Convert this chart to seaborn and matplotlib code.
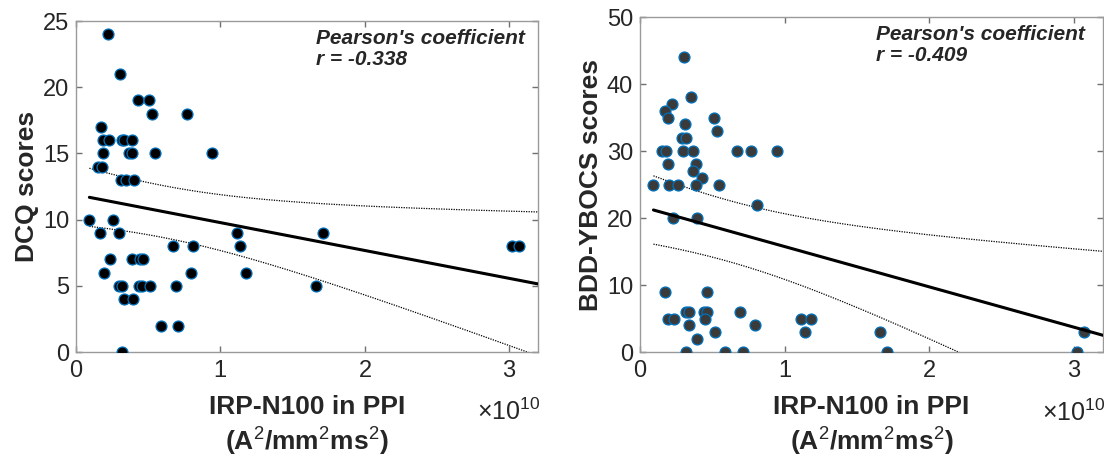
import matplotlib
matplotlib.use("Agg")
import matplotlib.pyplot as plt
import matplotlib.ticker as mticker
import numpy as np
import seaborn as sns

# IRP-N100 in PPI (units of 1e10 A^2/mm^2ms^2) and DCQ scores
dcq_x = [0.224, 0.305, 0.43, 0.507, 0.53, 0.766, 0.174, 0.19, 0.227, 0.32, 0.335, 0.39,
         0.19, 0.368, 0.39, 0.55, 0.944, 0.153, 0.178, 0.31, 0.35, 0.40,
         0.093, 0.26, 0.167, 0.296, 1.116, 1.71, 0.674, 0.81, 1.139, 3.02, 3.07,
         0.234, 0.39, 0.447, 0.463, 0.197, 0.796, 1.18,
         0.296, 0.317, 0.4375, 0.458, 0.514, 0.69, 1.66, 0.333, 0.396, 0.59, 0.708, 0.317]
dcq_y = [24, 21, 19, 19, 18, 18, 17, 16, 16, 16, 16, 16,
         15, 15, 15, 15, 15, 14, 14, 13, 13, 13,
         10, 10, 9, 9, 9, 9, 8, 8, 8, 8, 8,
         7, 7, 7, 7, 6, 6, 6,
         5, 5, 5, 5, 5, 5, 5, 4, 4, 2, 2, 0]

# IRP-N100 in PPI and BDD-YBOCS scores
bdd_x = [0.306, 0.224, 0.174, 0.197, 0.35, 0.3125, 0.509, 0.53, 0.29, 0.32,
         0.153, 0.18, 0.296, 0.368, 0.67, 0.77, 0.944, 0.197, 0.389, 0.366, 0.43,
         0.093, 0.2, 0.264, 0.389, 0.549, 0.81, 0.227, 0.396,
         0.171, 0.465, 0.197, 0.236, 0.317, 0.338, 0.44, 0.465, 0.69, 0.447,
         1.11, 1.18, 0.338, 0.796, 1.14, 0.516, 1.66, 0.394,
         0.32, 0.59, 0.713, 1.71, 3.02, 3.07]
bdd_y = [44, 37, 36, 35, 38, 34, 35, 33, 32, 32,
         30, 30, 30, 30, 30, 30, 30, 28, 28, 27, 26,
         25, 25, 25, 25, 25, 22, 20, 20,
         9, 9, 5, 5, 6, 6, 6, 6, 6, 5,
         5, 5, 4, 4, 3, 3, 3, 2,
         0, 0, 0, 0, 0, 3]

# linear fit: [intercept, slope per 1e10]
dcq_fit = [11.88, -2.105]
bdd_fit = [21.76, -6.02]
# 95% bounds: half width = sqrt(h0^2 + k^2 (x - xm)^2), [h0, k, xm]
dcq_band = [1.96, 1.95, 0.6]
bdd_band = [4.56, 4.49, 0.6]

r_dcq = "-0.338"
r_bdd = "-0.409"

sns.set_style("white")
plt.rcParams["font.family"] = ["Liberation Sans", "DejaVu Sans"]
plt.rcParams["mathtext.fontset"] = "custom"
plt.rcParams["mathtext.rm"] = "Liberation Sans"
plt.rcParams["mathtext.bf"] = "Liberation Sans:bold"

fig = plt.figure(figsize=(11.04, 4.58), dpi=100)
ax1 = fig.add_axes([0.0688, 0.2314, 0.4185, 0.7227])
ax2 = fig.add_axes([0.5797, 0.2314, 0.4194, 0.7314])


def draw(ax, xs, ys, face, ylabel, ylim, yticks, fit, band, r, rx):
    x = np.array(xs) * 1e10
    y = np.array(ys, dtype=float)
    sns.scatterplot(x=x, y=y, ax=ax, color=face, edgecolor="#0072BD", linewidth=0.9,
                    s=62, zorder=3, legend=False)
    xg = np.linspace(x.min(), 3.2e10, 200)
    u = xg / 1e10
    yg = fit[0] + fit[1] * u
    half = np.sqrt(band[0] ** 2 + band[1] ** 2 * (u - band[2]) ** 2)
    sns.lineplot(x=xg, y=yg, ax=ax, color="black", linewidth=2.2, zorder=4)
    ax.plot(xg, yg + half, color="black", linestyle=(0, (1, 1)), linewidth=0.9)
    ax.plot(xg, yg - half, color="black", linestyle=(0, (1, 1)), linewidth=0.9)

    ax.set_xlim(0, 3.2e10)
    ax.set_ylim(*ylim)
    ax.set_xticks([0, 1e10, 2e10, 3e10])
    ax.set_yticks(yticks)
    fmt = mticker.ScalarFormatter(useMathText=True)
    fmt.set_powerlimits((0, 0))
    ax.xaxis.set_major_formatter(fmt)
    ax.xaxis.get_offset_text().set_visible(False)
    ax.tick_params(direction="in", length=4, width=1.0, color="#707070",
                   labelsize=17, labelcolor="#262626", bottom=True, left=True,
                   top=True, right=True)
    ax.tick_params(axis="x", pad=6)
    ax.tick_params(axis="y", pad=5)
    for sp in ax.spines.values():
        sp.set_visible(True)
        sp.set_color("#9a9a9a")
        sp.set_linewidth(1.0)
    ax.text(1.005, -0.18, r"$\times10^{10}$", transform=ax.transAxes, fontsize=18,
            color="#262626", ha="right", va="center")
    ax.set_xlabel("IRP-N100 in PPI\n(A$^2$/mm$^2$ms$^2$)", fontsize=19,
                  fontweight="bold", color="#262626", linespacing=1.2, labelpad=9)
    ax.set_ylabel(ylabel, fontsize=19, fontweight="bold", color="#262626", labelpad=3)
    ax.text(rx, 0.975, "Pearson's coefficient\nr = " + r, transform=ax.transAxes,
            fontsize=15, fontweight="bold", fontstyle="italic", va="top", ha="left",
            linespacing=1.1)


draw(ax1, dcq_x, dcq_y, "black", "DCQ scores", (0, 25), [0, 5, 10, 15, 20, 25],
     dcq_fit, dcq_band, r_dcq, 0.52)
draw(ax2, bdd_x, bdd_y, "#3a3a3a", "BDD-YBOCS scores", (0, 50), [0, 10, 20, 30, 40, 50],
     bdd_fit, bdd_band, r_bdd, 0.51)

fig.savefig("out.png", dpi=100)
